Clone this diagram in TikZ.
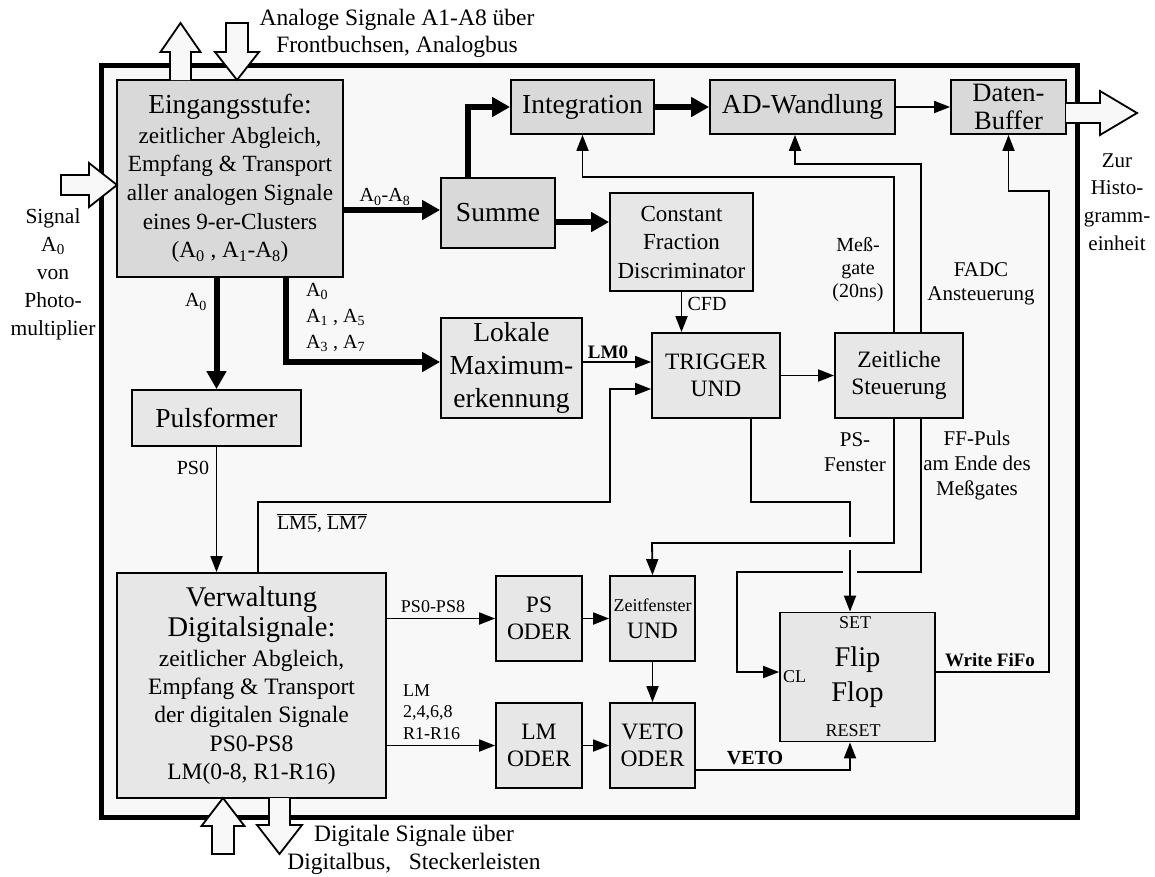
\documentclass[tikz,border=0pt]{standalone}
\usepackage{fontspec}
\setmainfont{Liberation Serif}
\usetikzlibrary{arrows.meta}
\definecolor{bgc}{HTML}{F8F8F8}
\definecolor{boxdk}{HTML}{D9D9D9}
\definecolor{boxlt}{HTML}{E7E7E7}
\newcommand\fL{\fontsize{27.5}{31}\selectfont}
\newcommand\fM{\fontsize{23.5}{27}\selectfont}
\newcommand\fN{\fontsize{23.2}{28.7}\selectfont}
\newcommand\fS{\fontsize{20}{25}\selectfont}
\newcommand\fX{\fontsize{18}{21.5}\selectfont}
\begin{document}
\begin{tikzpicture}[x=1pt,y=-1pt,
  box/.style={draw, line width=1.8pt, inner sep=0pt, align=center},
  dk/.style={box, fill=boxdk},
  lt/.style={box, fill=boxlt},
  tarr/.style={line width=1.8pt, -{Triangle[length=16pt,width=12pt]}},
  thl/.style={line width=1.8pt},
  Tarr/.style={line width=6pt, -{Triangle[length=18pt,width=19pt]}},
  blk/.style={draw, line width=1.8pt, fill=bgc, line join=miter},
  lab/.style={font=\fS, inner sep=0pt, align=center},
]
\useasboundingbox (0,0) rectangle (1155,876);
% frame
\draw[line width=5pt, fill=bgc] (101,65) rectangle (1077,817);

% boxes
\node[dk, minimum width=226pt, minimum height=197pt, font=\fN] (Eing) at (230,178.5)
 {{\fL Eingangsstufe:}\\[1pt]zeitlicher Abgleich,\\Empfang \& Transport\\aller analogen Signale\\eines 9-er-Clusters\\(A\textsubscript{0} , A\textsubscript{1}-A\textsubscript{8})};
\node[dk, minimum width=143pt, minimum height=54pt, font=\fL] (Integ) at (582.5,107) {Integration};
\node[dk, minimum width=185pt, minimum height=54pt, font=\fL] (AD) at (802.5,107) {AD-Wandlung};
\node[dk, minimum width=115pt, minimum height=54pt, font=\fontsize{26.5}{28}\selectfont] (Daten) at (1008.5,107) {Daten-\\Buffer};
\node[dk, minimum width=114pt, minimum height=70pt, font=\fL] (Summe) at (498,213) {Summe};
\node[lt, minimum width=143pt, minimum height=98pt, font=\fontsize{23}{28.5}\selectfont] (CFD) at (681.5,242) {Constant\\Fraction\\Discriminator};
\node[lt, minimum width=141pt, minimum height=100pt, font=\fontsize{27.5}{33}\selectfont] (Lok) at (511.5,368) {Lokale\\Maximum-\\erkennung};
\node[lt, minimum width=128pt, minimum height=85pt, font=\fM] (TRIG) at (716,375.5) {TRIGGER\\UND};
\node[lt, minimum width=128pt, minimum height=85pt, font=\fM] (Zeit) at (899,375.5) {Zeitliche\\Steuerung};
\node[lt, minimum width=169pt, minimum height=56pt, font=\fL] (Puls) at (216.5,418) {Pulsformer};
\node[lt, minimum width=269pt, minimum height=225pt, font=\fontsize{23.5}{28.3}\selectfont] (Verw) at (251.5,685.5)
 {{\fontsize{28.5}{31}\selectfont Verwaltung}\\[2pt]{\fontsize{28.5}{31}\selectfont Digitalsignale:}\\[1pt]zeitlicher Abgleich,\\Empfang \& Transport\\der digitalen Signale\\PS0-PS8\\LM(0-8, R1-R16)};
\node[lt, minimum width=86pt, minimum height=85pt, font=\fM] (PSO) at (539,618.5) {PS\\ODER};
\node[lt, minimum width=85pt, minimum height=85pt, font=\fM] (ZF) at (652.5,618.5) {{\fX Zeitfenster}\\UND};
\node[lt, minimum width=86pt, minimum height=85pt, font=\fM] (LMO) at (539,745.5) {LM\\ODER};
\node[lt, minimum width=85pt, minimum height=85pt, font=\fM] (VETO) at (652.5,745.5) {VETO\\ODER};
\node[lt, minimum width=155pt, minimum height=129pt, font=\fontsize{28.5}{35}\selectfont] (Flip) at (857.5,677) {Flip\\Flop};
\node[font=\fX, inner sep=0pt] (SET) at (855,623) {SET};
\node[font=\fX, inner sep=0pt] (RESET) at (853,731) {RESET};
\node[font=\fX, inner sep=0pt, anchor=west] (CL) at (783,677) {CL};

% thick connectors
\draw[Tarr] (Summe.west -| Eing.east) ++(0,-3) coordinate (e1) -- (e1 -| Summe.west);
\coordinate (s1) at (468,178);
\draw[Tarr] (s1) |- (Integ.west);
\draw[Tarr] (Integ) -- (AD);
\coordinate (s2) at (555,222);
\draw[Tarr] (s2) -- (s2 -| CFD.west);
\draw[Tarr] (Eing.south -| Puls.north) -- (Puls.north);
\coordinate (e2) at (286,277);
\draw[Tarr] (e2) |- (Lok.west |- 0,362);

% thin connectors
\draw[tarr] (AD) -- (Daten);
\draw[tarr] (Puls.south) -- (Puls.south |- Verw.north);
\draw[tarr] (Verw.north -| 258,0) |- (610,502) |- (TRIG.west |- 0,389);
\draw[tarr] (Lok.east |- 0,362) -- (TRIG.west |- 0,362);
\draw[tarr] (CFD.south) -- (CFD.south |- TRIG.north);
\draw[tarr] (TRIG) -- (Zeit);
\draw[tarr] (Zeit.north -| 894,0) |- (Integ.south |- 0,177) -- (Integ.south);
\draw[tarr] (Zeit.north -| 921,0) |- (795,164) -- (AD.south -| 795,0);
\draw[thl] (TRIG.south -| 751,0) |- (850,502) -- (850,537);
\draw[tarr] (850,550) -- (Flip.north -| 850,0);
\draw[tarr] (Zeit.south -| 894,0) |- (652,543) -- (ZF.north);
\draw[thl] (Zeit.south -| 921,0) |- (857,572);
\draw[tarr] (843,572) -| (737,672) -- (Flip.west |- 0,672);
\draw[tarr] (Flip.east |- 0,672) -- (1049,672) |- (1008.5,191) -- (Daten.south);
\draw[tarr] (Verw.east |- PSO.west) -- (PSO.west);
\draw[tarr] (Verw.east |- LMO.west) -- (LMO.west);
\draw[tarr] (PSO) -- (ZF);
\draw[tarr] (LMO) -- (VETO);
\draw[tarr] (ZF) -- (VETO);
\draw[tarr] (VETO.east |- 0,770) -| (Flip.south -| 850,0);

% labels
\node[lab] (lA08) at (385,197) {A\textsubscript{0}-A\textsubscript{8}};
\node[lab] (lA0) at (196,302) {A\textsubscript{0}};
\node[lab, font=\fontsize{20}{26}\selectfont, align=left, anchor=north west] (lA0b) at (306,283) {A\textsubscript{0}\\A\textsubscript{1} , A\textsubscript{5}\\A\textsubscript{3} , A\textsubscript{7}};
\node[lab, font=\bfseries\fontsize{19}{22}\selectfont] (lLM0) at (608,352) {LM0};
\node[lab] (lCFD) at (707,304) {CFD};
\node[lab, font=\fontsize{20}{23}\selectfont] (lMess) at (858,270) {Meß-\\gate\\(20ns)};
\node[lab, font=\fontsize{21}{24}\selectfont] (lFADC) at (981,284) {FADC\\Ansteuerung};
\node[lab, font=\fontsize{21}{25}\selectfont] (lPSF) at (855,452) {PS-\\Fenster};
\node[lab, font=\fontsize{21}{25}\selectfont] (lFF) at (977,465) {FF-Puls\\am Ende des\\Meßgates};
\node[lab] (lLM5) at (322,523) {$\overline{\mbox{LM5}}$, $\overline{\mbox{LM7}}$};
\node[lab] (lPS0) at (193,468) {PS0};
\node[lab, font=\fX] (lPS08) at (433,607) {PS0-PS8};
\node[lab, font=\fX, align=left, anchor=west] (lLM) at (403,712) {LM\\2,4,6,8\\R1-R16};
\node[lab, font=\bfseries\fontsize{19}{22}\selectfont] (lWF) at (990,660) {Write FiFo};
\node[lab, font=\bfseries\fontsize{20}{22}\selectfont] (lVETO) at (755,758) {VETO};
\node[lab, font=\fontsize{21}{27.7}\selectfont] (lZur) at (1117,202) {Zur\\Histo-\\gramm-\\einheit};
\node[lab, font=\fontsize{21.5}{28}\selectfont] (lSig) at (53,274) {Signal\\A\textsubscript{0}\\von\\Photo-\\multiplier};
\node[lab, font=\fontsize{23.5}{27}\selectfont] (lAna) at (397,33) {Analoge Signale A1-A8 über\\Frontbuchsen, Analogbus};
\node[lab, font=\fontsize{23.5}{28}\selectfont] (lDig) at (414,850) {Digitale Signale über\\Digitalbus,\ \ \ Steckerleisten};

% block arrows
\draw[blk] (170,80) -- (170,52) -- (160.5,52) -- (180.5,23) -- (200.5,52) -- (191,52) -- (191,80);
\draw[blk] (226,23) -- (226,52) -- (215,52) -- (237,80) -- (259,52) -- (248,52) -- (248,23) -- cycle;
\draw[blk] (61,175) -- (89,175) -- (89,163) -- (117,185) -- (89,207) -- (89,195) -- (61,195) -- cycle;
\draw[blk] (1066,103) -- (1100,103) -- (1100,91) -- (1137,113) -- (1100,135) -- (1100,123) -- (1066,123);
\draw[blk] (212,854) -- (212,826) -- (201.5,826) -- (223,798) -- (244.5,826) -- (234,826) -- (234,854) -- cycle;
\draw[blk] (269,798) -- (269,825) -- (257,825) -- (279.5,854) -- (302,825) -- (290,825) -- (290,798);
\end{tikzpicture}
\end{document}
